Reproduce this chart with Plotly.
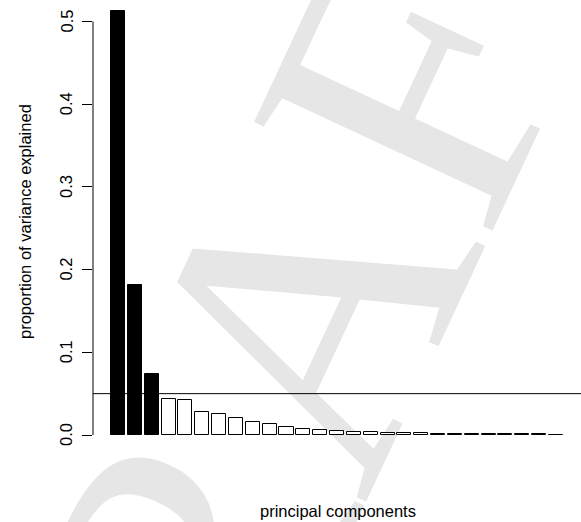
import plotly.graph_objects as go

# ---- data ----
components = list(range(1, 28))
variance_prop = [0.513, 0.181, 0.0737, 0.0434, 0.0418, 0.0280, 0.0252, 0.0210, 0.0163,
                 0.0131, 0.0093, 0.0077, 0.0063, 0.0050, 0.0042, 0.0035, 0.0028, 0.0023,
                 0.0019, 0.0016, 0.0014, 0.0012, 0.0011, 0.0009, 0.0008, 0.0007, 0.0006]
n_highlight = 3
threshold = 0.05
y_ticks = [0.0, 0.1, 0.2, 0.3, 0.4, 0.5]
y_tick_labels = ["0.0", "0.1", "0.2", "0.3", "0.4", "0.5"]
x_title = "principal components"
y_title = "proportion of variance explained"
watermark = "DRAFT"

# R barplot positions (width 1, space 0.2)
xpos = [0.7 + 1.2 * i for i in range(len(variance_prop))]
fills = ["black" if i < n_highlight else "white" for i in range(len(variance_prop))]

W, H = 581, 522
ML, MR, MT, MB = 93, 0, 0, 72
plot_h = H - MT - MB
plot_w = W - ML - MR
y0_px = 435
px_per_unit = 827.0
yr = [-(plot_h - y0_px) / px_per_unit, y0_px / px_per_unit]

fig = go.Figure()
fig.add_trace(go.Bar(
    x=xpos, y=variance_prop, width=1.0,
    marker=dict(color=fills, line=dict(color="black", width=1)),
    hoverinfo="skip", showlegend=False,
))

font_main = dict(family="Liberation Sans, Arial, sans-serif", size=16.5, color="black")

wm_cx, wm_cy = 245, 339  # pixel centre of watermark
shapes = [
    dict(type="rect", xref="paper", yref="paper",
         x0=(wm_cx - ML) / plot_w, x1=(wm_cx - ML) / plot_w,
         y0=(plot_h - wm_cy) / plot_h, y1=(plot_h - wm_cy) / plot_h,
         line=dict(width=0), layer="below",
         label=dict(text=watermark, textangle=-65, textposition="middle center",
                    font=dict(family="Liberation Serif, Times New Roman, serif", size=400,
                              color="#e6e6e6"))),
    dict(type="line", xref="paper", yref="y", x0=0, x1=1, y0=threshold, y1=threshold,
         line=dict(color="black", width=1)),
    dict(type="line", xref="paper", yref="y", x0=0, x1=0, y0=y_ticks[0], y1=y_ticks[-1],
         line=dict(color="black", width=1)),
]

annotations = []
for v, lab in zip(y_ticks, y_tick_labels):
    annotations.append(dict(
        text=lab, xref="paper", yref="y", x=(66 - ML) / plot_w, y=v,
        xanchor="center", yanchor="middle", textangle=-90, showarrow=False, font=font_main))
annotations.append(dict(
    text=y_title, xref="paper", yref="paper", x=(25 - ML) / plot_w, y=(plot_h - 222) / plot_h,
    xanchor="center", yanchor="middle", textangle=-90, showarrow=False, font=font_main))
annotations.append(dict(
    text=x_title, xref="paper", yref="paper", x=(338 - ML) / plot_w, y=(plot_h - 511) / plot_h,
    xanchor="center", yanchor="middle", showarrow=False, font=font_main))

fig.update_layout(
    width=W, height=H,
    margin=dict(l=ML, r=MR, t=MT, b=MB),
    paper_bgcolor="white", plot_bgcolor="rgba(0,0,0,0)",
    xaxis=dict(range=[-1.088, 33.688], visible=False, showgrid=False, zeroline=False),
    yaxis=dict(range=yr, showgrid=False, zeroline=False, showline=False,
               tickmode="array", tickvals=y_ticks, ticks="outside", ticklen=10,
               tickwidth=1, tickcolor="black", showticklabels=False),
    shapes=shapes, annotations=annotations,
    bargap=0, showlegend=False,
)

fig.write_html("out.html", config={"displayModeBar": False},
               post_script="document.body.style.margin='0';document.body.style.overflow='hidden';")
